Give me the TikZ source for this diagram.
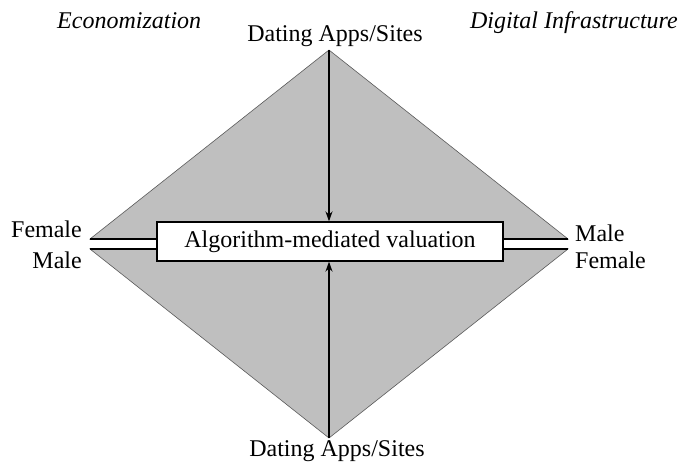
\documentclass[tikz,border=0pt]{standalone}
\usepackage{fontspec}
\setmainfont{Liberation Serif}
\usetikzlibrary{arrows.meta}
\definecolor{trigray}{RGB}{191,191,191}
\definecolor{edgegray}{RGB}{90,90,90}
\begin{document}
\begin{tikzpicture}[x=1pt,y=-1pt,
  lbl/.style={font=\fontsize{24}{28}\selectfont, inner sep=0pt},
  tri/.style={fill=trigray, draw=edgegray, line width=0.6pt},
  bandline/.style={draw=black, line width=1.2pt},
  mainbox/.style={fill=white, draw=black, line width=1.2pt, minimum width=346pt, minimum height=39pt, inner sep=0pt, font=\fontsize{24}{28}\selectfont},
  arr/.style={line width=1.6pt, -{Stealth[length=10pt,width=7pt]}}]
\useasboundingbox (0,0) rectangle (681,469);
% corner coordinates
\coordinate (topapex) at (329,50);
\coordinate (botapex) at (329,438);
\coordinate (ul) at (90,239);
\coordinate (ur) at (568,239);
\coordinate (ll) at (90,249);
\coordinate (lr) at (568,249);
% triangles
\draw[tri] (ul) -- (topapex) -- (ur) -- cycle;
\draw[tri] (ll) -- (botapex) -- (lr) -- cycle;
% white band
\fill[white] (ul) rectangle (lr);
\draw[bandline] (ul) -- (ur);
\draw[bandline] (ll) -- (lr);
% centre box
\node[mainbox] (box) at (330,241.5) {Algorithm-mediated valuation};
% arrows
\draw[arr] (topapex) -- (box.north -| topapex);
\draw[arr] (botapex) -- (box.south -| botapex);
% labels
\node[lbl, anchor=base west] (econ) at (57,28) {\itshape Economization};
\node[lbl, anchor=base east] (digi) at (678,28) {\itshape Digital Infrastructure};
\node[lbl, anchor=base] (dtop) at (335,41) {Dating Apps/Sites};
\node[lbl, anchor=base] (dbot) at (337,456) {Dating Apps/Sites};
\node[lbl, anchor=base east] (lfem) at (82,237) {Female};
\node[lbl, anchor=base east] (lmale) at (82,268) {Male};
\node[lbl, anchor=base west] (rmale) at (575,241) {Male};
\node[lbl, anchor=base west] (rfem) at (575,268) {Female};
\end{tikzpicture}
\end{document}
